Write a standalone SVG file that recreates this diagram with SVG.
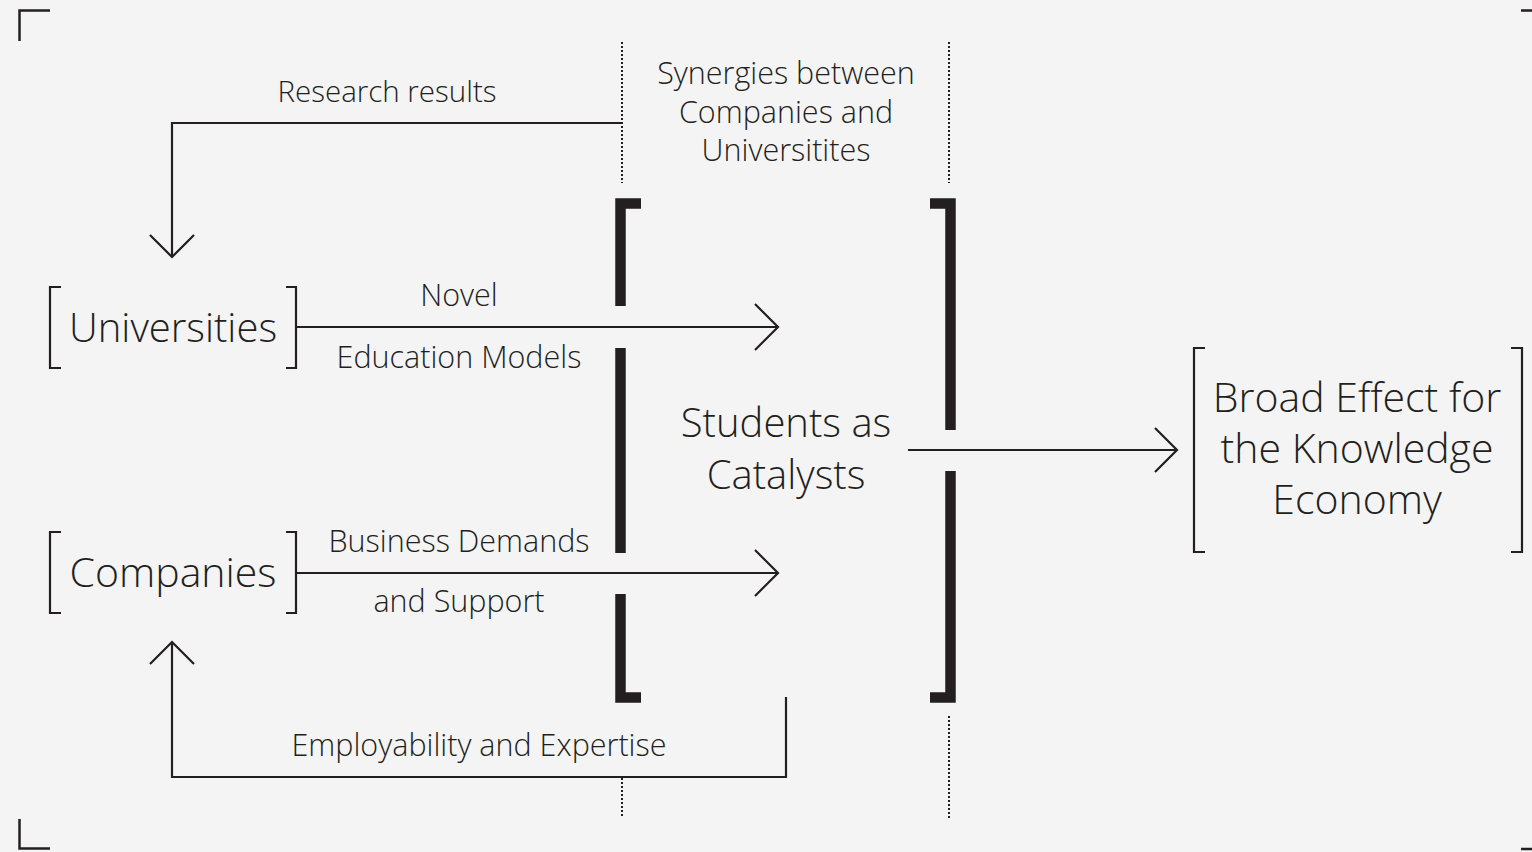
<svg xmlns="http://www.w3.org/2000/svg" width="1532" height="852" viewBox="0 0 1532 852">
<style>
.ln{fill:none;stroke:#231f20;stroke-width:2.2}
.br{fill:none;stroke:#231f20;stroke-width:2.2}
.big{fill:none;stroke:#231f20;stroke-width:10.5;stroke-linecap:butt;stroke-linejoin:miter}
.dot{fill:none;stroke:#231f20;stroke-width:2;stroke-dasharray:2 2}
.corner{fill:none;stroke:#231f20;stroke-width:2.5}
text{font-family:"Open Sans","Noto Sans","Liberation Sans",sans-serif;font-weight:300;fill:#231f20;text-anchor:middle}
.l{font-size:30.5px}
.r{font-size:29.5px}
.m{font-size:30.5px}
.n{font-size:40px}
.c{font-size:41px}
.e{font-size:41px}
</style>
<rect width="1532" height="852" fill="#f4f4f4"/>
<g id="frame">
<path class="corner" d="M19.5 41V10.5H50"/>
<path class="corner" d="M1521 10.5H1532"/>
<path class="corner" d="M19.5 819V848.5H50"/>
<path class="corner" d="M1521 849H1532"/>
</g>
<g id="dividers">
<path class="dot" d="M622 42V183M622 778V818"/>
<path class="dot" d="M949 42V183M949 716V818"/>
</g>
<g id="synergies">
<text class="m" x="786" y="84">Synergies between</text>
<text class="m" x="786" y="123">Companies and</text>
<text class="m" x="786" y="161">Universitites</text>
</g>
<g id="catalysts">
<path class="big" d="M641 203.5H620.5V306M620.5 348V553M620.5 594V697.5H641"/>
<path class="big" d="M930 203.5H950.5V430M950.5 471V697.5H930"/>
<text class="n" x="786" y="437">Students as</text>
<text class="n" x="786" y="489">Catalysts</text>
</g>
<g id="universities">
<path class="br" d="M61 287H50V368H61"/>
<path class="br" d="M286 287H296V368H286"/>
<text class="n" x="173" y="342">Universities</text>
</g>
<g id="companies">
<path class="br" d="M61 532H50V613H61"/>
<path class="br" d="M286 532H296V613H286"/>
<text class="c" x="173" y="587">Companies</text>
</g>
<g id="effect">
<path class="br" d="M1205 348H1194V552H1205"/>
<path class="br" d="M1511 348H1522V552H1511"/>
<text class="e" x="1357" y="412">Broad Effect for</text>
<text class="e" x="1357" y="463">the Knowledge</text>
<text class="e" x="1357" y="514">Economy</text>
</g>
<g id="connectors">
<path class="ln" d="M622 123H172V257"/>
<path class="ln" d="M150 235L172 257L194 235"/>
<path class="ln" d="M786 697V777H172V642"/>
<path class="ln" d="M150 664L172 642L194 664"/>
<path class="ln" d="M297 327H778"/>
<path class="ln" d="M755 304L778 327L755 350"/>
<path class="ln" d="M297 573H778"/>
<path class="ln" d="M755 550L778 573L755 596"/>
<path class="ln" d="M908 450H1177"/>
<path class="ln" d="M1155 428L1177 450L1155 472"/>
</g>
<g id="labels">
<text class="r" x="387" y="102">Research results</text>
<text class="l" x="459" y="306">Novel</text>
<text class="l" x="459" y="368">Education Models</text>
<text class="l" x="459" y="552">Business Demands</text>
<text class="l" x="459" y="612">and Support</text>
<text class="l" x="479" y="756">Employability and Expertise</text>
</g>
</svg>
